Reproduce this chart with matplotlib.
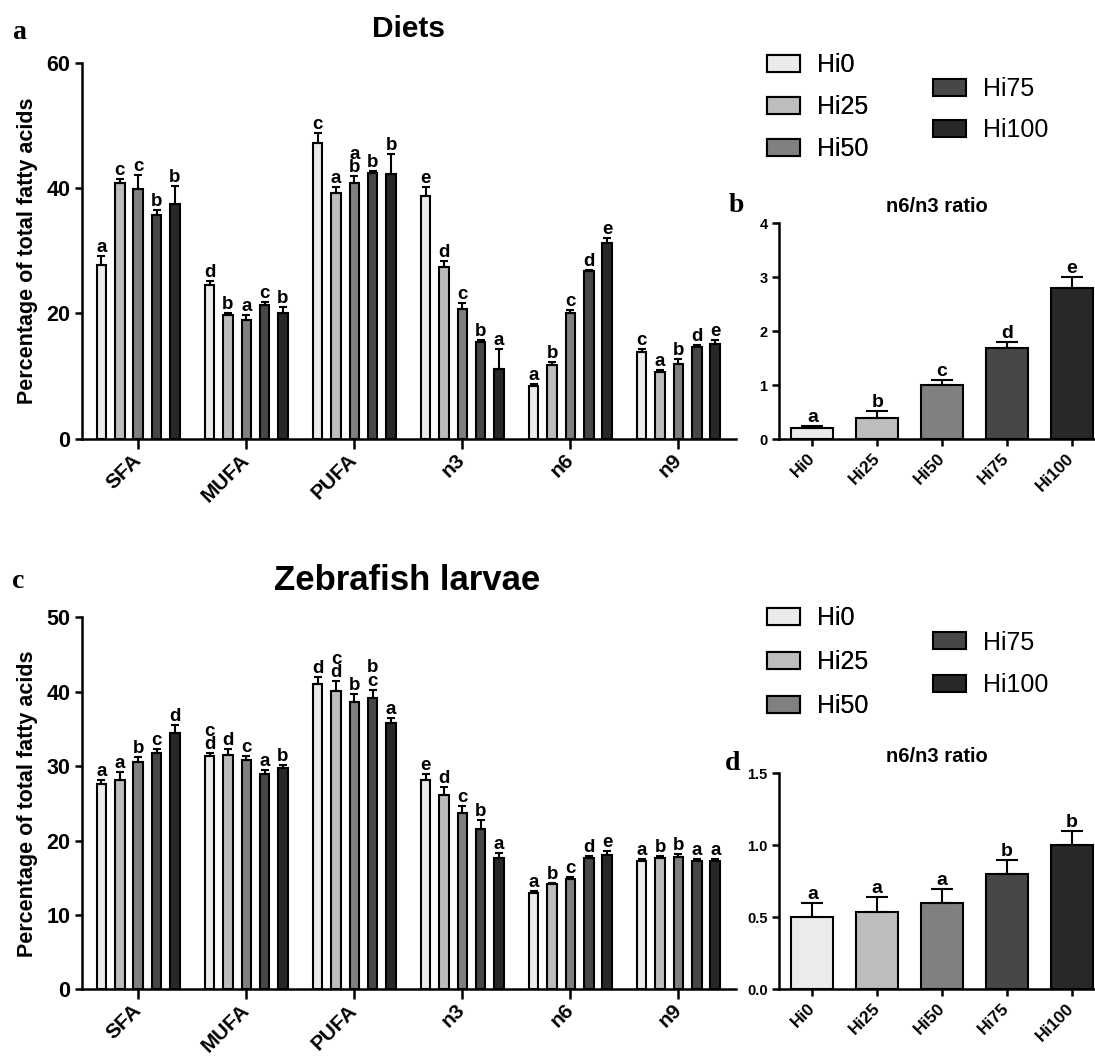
import matplotlib
matplotlib.use("Agg")
import matplotlib.pyplot as plt
import numpy as np

plt.rcParams['font.family'] = ['Liberation Sans', 'DejaVu Sans']

groups = ["Hi0", "Hi25", "Hi50", "Hi75", "Hi100"]
fatty = ["SFA", "MUFA", "PUFA", "n3", "n6", "n9"]
colors = ["#ebebeb", "#bdbdbd", "#808080", "#474747", "#282828"]

# panel a: diets, rows = Hi0..Hi100, columns = SFA..n9
diets_mean = [[27.7, 24.6, 47.2, 38.7, 8.5, 13.8],
              [40.8, 19.8, 39.2, 27.5, 11.7, 10.7],
              [39.9, 18.9, 40.9, 20.7, 20.1, 12.0],
              [35.8, 21.4, 42.4, 15.5, 26.8, 14.6],
              [37.5, 20.0, 42.3, 11.1, 31.2, 15.2]]
diets_sem = [[1.4, 0.6, 1.6, 1.5, 0.2, 0.6],
             [0.7, 0.3, 1.0, 0.8, 0.5, 0.2],
             [2.2, 0.9, 1.0, 0.9, 0.4, 0.8],
             [0.7, 0.4, 0.3, 0.3, 0.2, 0.3],
             [2.8, 1.0, 3.2, 3.2, 0.8, 0.6]]
diets_sig = [["a", "d", "c", "e", "a", "c"],
             ["c", "b", "a", "d", "b", "a"],
             ["c", "a", "a\nb", "c", "c", "b"],
             ["b", "c", "b", "b", "d", "d"],
             ["b", "b", "b", "a", "e", "e"]]

# panel c: zebrafish larvae
larvae_mean = [[27.6, 31.3, 41.0, 28.1, 13.0, 17.3],
               [28.2, 31.5, 40.1, 26.1, 14.1, 17.6],
               [30.5, 30.8, 38.6, 23.7, 14.8, 17.8],
               [31.7, 29.0, 39.2, 21.6, 17.6, 17.2],
               [34.5, 29.7, 35.8, 17.6, 18.1, 17.2]]
larvae_sem = [[0.6, 0.4, 1.0, 0.9, 0.2, 0.2],
              [1.0, 0.8, 1.3, 1.1, 0.2, 0.3],
              [0.7, 0.5, 1.1, 0.9, 0.3, 0.4],
              [0.6, 0.5, 1.1, 1.2, 0.3, 0.3],
              [1.0, 0.5, 0.7, 0.7, 0.5, 0.3]]
larvae_sig = [["a", "c\nd", "d", "e", "a", "a"],
              ["a", "d", "c\nd", "d", "b", "b"],
              ["b", "c", "b", "c", "c", "b"],
              ["c", "a", "b\nc", "b", "d", "a"],
              ["d", "b", "a", "a", "e", "a"]]

# panels b and d: n6/n3 ratio
ratio_diets = [0.2, 0.4, 1.0, 1.7, 2.8]
ratio_diets_sem = [0.05, 0.12, 0.1, 0.1, 0.2]
ratio_diets_sig = ["a", "b", "c", "d", "e"]
ratio_larvae = [0.5, 0.54, 0.6, 0.8, 1.0]
ratio_larvae_sem = [0.1, 0.1, 0.1, 0.1, 0.1]
ratio_larvae_sig = ["a", "a", "a", "b", "b"]


def style_axes(ax, lab_size):
    for s in ["top", "right"]:
        ax.spines[s].set_visible(False)
    for s in ["left", "bottom"]:
        ax.spines[s].set_linewidth(1.8)
    ax.tick_params(width=1.8, length=5, labelsize=lab_size)
    for t in ax.get_yticklabels() + ax.get_xticklabels():
        t.set_fontweight("bold")


def fatty_panel(ax, mean, sem, sig, ymax, yticks):
    x = np.arange(len(fatty))
    step, width = 0.17, 0.088
    bars = []
    for i, g in enumerate(groups):
        xi = x + (i - 2) * step
        b = ax.bar(xi, mean[i], width, color=colors[i], edgecolor="black",
                   linewidth=1.5, label=g, zorder=2)
        bars.append(b)
        ax.errorbar(xi, mean[i], yerr=[np.zeros(len(fatty)), sem[i]], fmt="none",
                    ecolor="black", elinewidth=1.5, capsize=2.8, capthick=1.5, zorder=3)
        for xx, m, s, lab in zip(xi, mean[i], sem[i], sig[i]):
            ax.annotate(lab, (xx, m + s), xytext=(0, 0), textcoords="offset points",
                        ha="center", va="bottom", fontsize=13.5, fontweight="bold",
                        linespacing=0.75)
    ax.set_xlim(-0.52, 5.53)
    ax.set_ylim(0, ymax)
    ax.set_yticks(yticks)
    ax.set_xticks(x)
    ax.set_xticklabels(fatty, rotation=45, ha="right", va="center",
                       rotation_mode="anchor")
    ax.set_ylabel("Percentage of total fatty acids", fontsize=15.5, fontweight="bold",
                  labelpad=6)
    style_axes(ax, 15.5)
    ax.tick_params(axis="x", length=7, pad=6, labelsize=15)
    return bars


def ratio_panel(ax, vals, sem, sig, ymax, yticks, tpad):
    x = np.arange(len(groups))
    ax.bar(x, vals, 0.65, color=colors, edgecolor="black", linewidth=1.5, zorder=2)
    ax.errorbar(x, vals, yerr=[np.zeros(len(vals)), sem], fmt="none", ecolor="black",
                elinewidth=1.5, capsize=8, capthick=1.5, zorder=3)
    for xx, v, s, lab in zip(x, vals, sem, sig):
        ax.annotate(lab, (xx, v + s), xytext=(0, 0), textcoords="offset points",
                    ha="center", va="bottom", fontsize=14, fontweight="bold")
    ax.set_xlim(-0.51, 4.35)
    ax.set_ylim(0, ymax)
    ax.set_yticks(yticks)
    ax.set_xticks(x)
    ax.set_xticklabels(groups, rotation=45, ha="right", va="center",
                       rotation_mode="anchor")
    style_axes(ax, 10.5)
    ax.tick_params(axis="x", labelsize=12.5, pad=7)
    ax.set_title("n6/n3 ratio", fontsize=14.5, fontweight="bold", pad=tpad)


fig = plt.figure(figsize=(10.95, 10.58), dpi=100)

ax_a = fig.add_axes([0.0749, 0.5853, 0.597, 0.3552])
bars_a = fatty_panel(ax_a, diets_mean, diets_sem, diets_sig, 60, [0, 20, 40, 60])

ax_c = fig.add_axes([0.0749, 0.0649, 0.597, 0.3516])
bars_c = fatty_panel(ax_c, larvae_mean, larvae_sem, larvae_sig, 50,
                     [0, 10, 20, 30, 40, 50])

ax_b = fig.add_axes([0.7117, 0.5848, 0.288, 0.2041])
ratio_panel(ax_b, ratio_diets, ratio_diets_sem, ratio_diets_sig, 4, [0, 1, 2, 3, 4], 8.5)

ax_d = fig.add_axes([0.7117, 0.0649, 0.288, 0.2041])
ratio_panel(ax_d, ratio_larvae, ratio_larvae_sem, ratio_larvae_sig, 1.5,
            [0.0, 0.5, 1.0, 1.5], 8)
ax_d.set_yticklabels(["0.0", "0.5", "1.0", "1.5"], fontweight="bold")

# panel titles
fig.text(0.3735, 0.965, "Diets", fontsize=21.5, fontweight="bold", ha="center",
         va="baseline")
fig.text(0.3721, 0.4423, "Zebrafish larvae", fontsize=25, fontweight="bold",
         ha="center", va="baseline")

# legends, two columns each
for bars, y1, y2, ls in [(bars_a, 0.950, 0.927, 0.72), (bars_c, 0.4272, 0.404, 0.8)]:
    leg1 = fig.legend(bars[:3], groups[:3], loc="upper left", bbox_to_anchor=(0.7005, y1),
                      frameon=False, fontsize=18, handlelength=1.32, handleheight=0.68,
                      handletextpad=0.68, labelspacing=ls, borderaxespad=0,
                      borderpad=0)
    leg2 = fig.legend(bars[3:], groups[3:], loc="upper left", bbox_to_anchor=(0.852, y2),
                      frameon=False, fontsize=18, handlelength=1.32, handleheight=0.68,
                      handletextpad=0.68, labelspacing=ls - 0.05, borderaxespad=0,
                      borderpad=0)
    fig.add_artist(leg1)

# panel letters
for lab, px, py in [("a", 0.011, 0.963), ("b", 0.665, 0.7996), ("c", 0.011, 0.4442),
                    ("d", 0.662, 0.2722)]:
    fig.text(px, py, lab, fontsize=20, fontweight="bold", family="Liberation Serif",
             ha="left", va="baseline")

fig.savefig("out.png", dpi=100)
